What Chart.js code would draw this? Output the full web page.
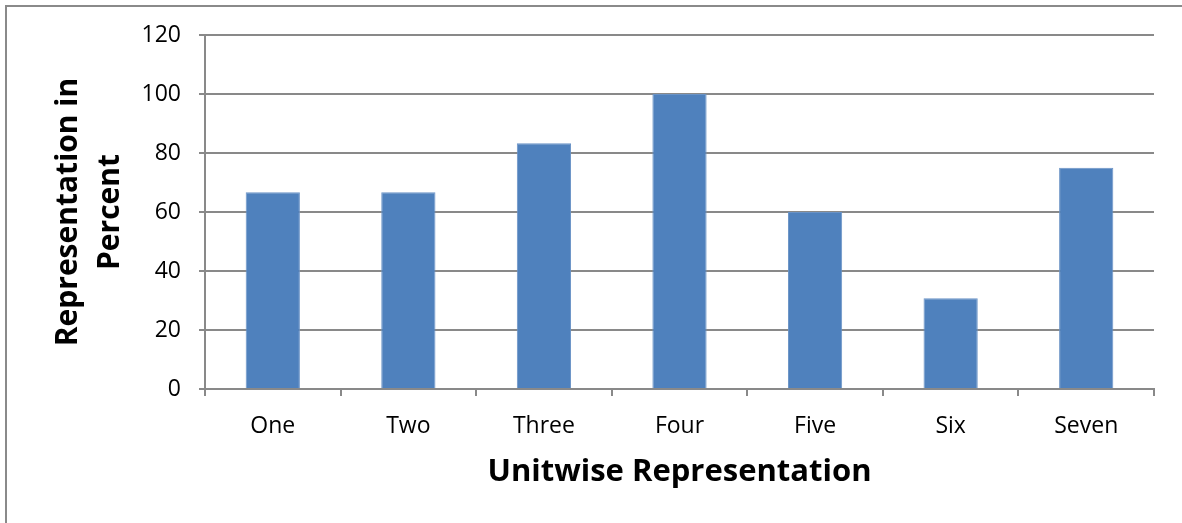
<!DOCTYPE html>
<html><head><meta charset="utf-8">
<script src="https://cdn.jsdelivr.net/npm/chart.js@4"></script>
<style>
body{margin:0;background:#fff}
#wrap{position:relative;width:1182px;height:523px;overflow:hidden;background:#fff}
#frame{position:absolute;left:5px;top:5px;width:1300px;height:700px;border-top:2px solid #8a8a8a;border-left:2px solid #8a8a8a}
canvas{position:absolute;left:0;top:0}
</style></head>
<body><div id="wrap"><div id="frame"></div><canvas id="c" width="1182" height="523"></canvas></div>
<script>
const categories = ['One','Two','Three','Four','Five','Six','Seven'];
const values = [66.7, 66.7, 83.3, 100, 60, 30.8, 75];
const yTickValues = [0, 20, 40, 60, 80, 100, 120];
const xTitle = 'Unitwise Representation';
const yTitle = ['Representation in', 'Percent'];

const gridColor = '#898989';
new Chart(document.getElementById('c'), {
  type: 'bar',
  data: {
    labels: categories,
    datasets: [{
      data: values,
      backgroundColor: '#4F81BD',
      borderColor: '#6a93c6',
      borderWidth: 1,
      barPercentage: 0.4,
      categoryPercentage: 1.0
    }]
  },
  options: {
    responsive: false,
    animation: false,
    events: [],
    layout: { padding: { left: 0, top: 35, right: 28, bottom: 0 } },
    plugins: { legend: { display: false }, tooltip: { enabled: false } },
    scales: {
      x: {
        afterFit: s => { s.height = 134; },
        grid: { display: true, drawOnChartArea: false, drawTicks: true, tickLength: 7, color: gridColor, lineWidth: 2, offset: true },
        border: { display: true, color: gridColor, width: 2 },
        ticks: { color: '#000', font: { family: 'Open Sans', size: 23 }, padding: 17, maxRotation: 0 },
        title: { display: true, text: xTitle, color: '#000', font: { family: 'Open Sans', size: 31, weight: 'bold' }, padding: { top: 0, bottom: 32 } }
      },
      y: {
        min: 0, max: 120,
        afterFit: s => { s.width = 205; },
        afterBuildTicks: s => { s.ticks = yTickValues.map(v => ({ value: v })); },
        grid: { color: gridColor, lineWidth: 2, drawTicks: true, tickLength: 6 },
        border: { display: true, color: gridColor, width: 2 },
        ticks: { color: '#000', font: { family: 'Open Sans', size: 23 }, padding: 18 },
        title: { display: true, text: yTitle, color: '#000', font: { family: 'Open Sans', size: 30, weight: 'bold', lineHeight: '42px' }, padding: { top: 47, bottom: 0 } }
      }
    }
  }
});
</script>
</body></html>
